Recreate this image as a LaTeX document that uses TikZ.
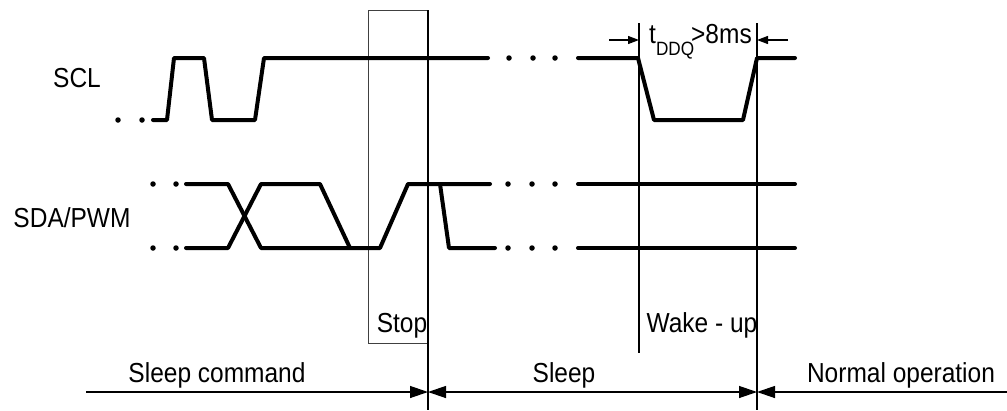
\documentclass[tikz,border=0pt]{standalone}
\usepackage{fontspec}
\usepackage{graphicx}
\setmainfont{Liberation Sans}
\usetikzlibrary{arrows.meta}
\newcommand\tallbox[1]{\scalebox{0.98}[1.1]{#1}}
\begin{document}
\begin{tikzpicture}[x=1pt,y=-1pt,
  sig/.style={line width=4pt, line join=round, line cap=round},
  thinline/.style={line width=1.3pt},
  boxline/.style={line width=1pt, black!75},
  dotmark/.style={circle, fill, inner sep=0pt, minimum size=5.5pt},
  lbl/.style={font=\fontsize{25}{29}\selectfont, inner sep=0pt, anchor=base},
  bigtip/.style={thinline, -{Triangle[length=18pt,width=12pt]}},
  bothtip/.style={thinline, {Triangle[length=18pt,width=12pt]}-{Triangle[length=18pt,width=12pt]}},
  smalltip/.style={thinline, -{Triangle[length=11pt,width=8pt]}},
]
\useasboundingbox (0,0) rectangle (1007,410);

% stop box and markers
\draw[boxline] (368,10) rectangle (428,343);
\coordinate (stopT) at (428,10);
\coordinate (stopB) at (428,410);
\coordinate (wakeT) at (639,23);
\coordinate (wakeB) at (639,353);
\coordinate (normT) at (757,23);
\coordinate (normB) at (757,410);
\draw[thinline] (stopT) -- (stopB);
\draw[thinline] (wakeT) -- (wakeB);
\draw[thinline] (normT) -- (normB);

% SCL
\foreach \x in {118,142} \node[dotmark] at (\x,120) {};
\draw[sig] (153,120) -- (167,120) -- (174,58) -- (204,58) -- (212,120) -- (255,120) -- (264,58) -- (488,58);
\foreach \x in {509,533,555} \node[dotmark] at (\x,58) {};
\draw[sig] (578,58) -- (638,58) -- (654,120) -- (743,120) -- (757,58) -- (795,58);

% SDA
\foreach \x in {153,176} {\node[dotmark] at (\x,184) {}; \node[dotmark] at (\x,248) {};}
\draw[sig] (186,184) -- (228,184) -- (261,248) -- (380,248) -- (408,184) -- (490,184);
\draw[sig] (186,248) -- (228,248) -- (261,184) -- (320,184) -- (350,248);
\draw[sig] (440,184) -- (449,248) -- (495,248);
\foreach \x in {508,532,555} {\node[dotmark] at (\x,184) {}; \node[dotmark] at (\x,248) {};}
\draw[sig] (578,184) -- (795,184);
\draw[sig] (578,248) -- (795,248);

% labels
\node[lbl] (scl) at (77,87) {\tallbox{SCL}};
\node[lbl] (sda) at (72,227) {\tallbox{SDA/PWM}};
\node[lbl] (stop) at (402,332) {\tallbox{Stop}};
\node[lbl] (wake) at (702,332) {\tallbox{Wake - up}};
\node[lbl] (cmd) at (217,382) {\tallbox{Sleep command}};
\node[lbl] (sleep) at (564,382) {\tallbox{Sleep}};
\node[lbl] (norm) at (901,382) {\tallbox{Normal operation}};
\node[lbl, anchor=base west] (tddq) at (649,43)
  {\tallbox{t{\fontsize{17.5}{20}\selectfont\raisebox{-11pt}{DDQ}}\kern-3pt>8ms}};

% t_DDQ arrows
\coordinate (tl0) at (609,40);
\coordinate (tl1) at (639,40);
\coordinate (tr0) at (788,40);
\coordinate (tr1) at (757,40);
\draw[smalltip] (tl0) -- (tl1);
\draw[smalltip] (tr0) -- (tr1);

% phase arrows
\coordinate (cmdL) at (86,392);
\coordinate (stopA) at (428,392);
\coordinate (normA) at (757,392);
\coordinate (endR) at (1007,392);
\draw[bigtip] (cmdL) -- (stopA);
\draw[bothtip] (stopA) -- (normA);
\draw[bigtip] (endR) -- (normA);
\end{tikzpicture}
\end{document}
